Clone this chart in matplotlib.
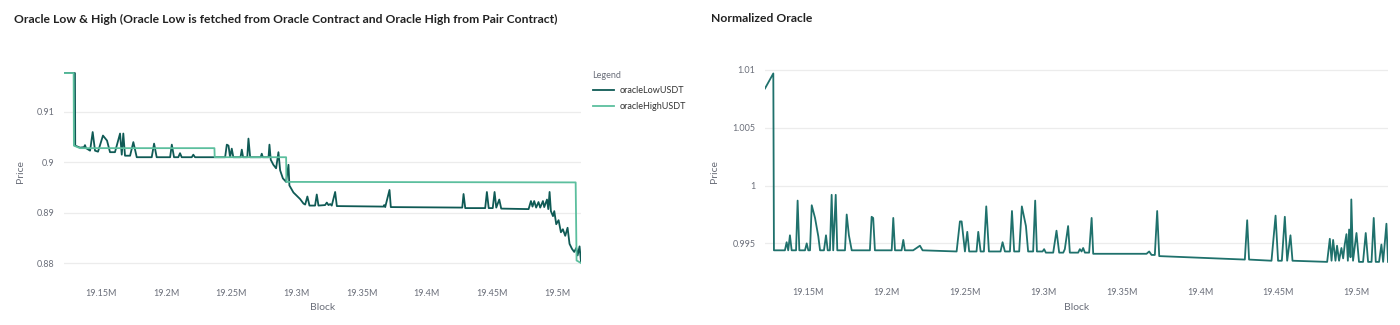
import matplotlib
matplotlib.use("Agg")
import matplotlib.pyplot as plt
from matplotlib.ticker import FuncFormatter, MultipleLocator, FixedLocator

plt.rcParams["font.family"] = ["Lato", "DejaVu Sans"]

# block numbers in millions, oracle prices in USDT
low_block = [
    19.1216, 19.1300, 19.1302, 19.1339, 19.1370, 19.1377, 19.1385, 19.1416, 19.1436, 19.1454,
    19.1477, 19.1515, 19.1546, 19.1569, 19.1607, 19.1646, 19.1659, 19.1671, 19.1684, 19.1723,
    19.1748, 19.1774, 19.1889, 19.1907, 19.1927, 19.2030, 19.2043, 19.2060, 19.2093, 19.2106,
    19.2119, 19.2196, 19.2208, 19.2221, 19.2452, 19.2465, 19.2478, 19.2490, 19.2503, 19.2515,
    19.2570, 19.2580, 19.2590, 19.2622, 19.2631, 19.2644, 19.2725, 19.2733, 19.2741, 19.2785,
    19.2792, 19.2802, 19.2822, 19.2843, 19.2861, 19.2874, 19.2895, 19.2920, 19.2938, 19.2945,
    19.2976, 19.3027, 19.3053, 19.3066, 19.3083, 19.3099, 19.3142, 19.3155, 19.3168, 19.3219,
    19.3232, 19.3245, 19.3258, 19.3270, 19.3296, 19.3309, 19.3667, 19.3672, 19.3680, 19.3713,
    19.3723, 19.4271, 19.4281, 19.4294, 19.4447, 19.4460, 19.4474, 19.4505, 19.4519, 19.4532,
    19.4555, 19.4570, 19.4780, 19.4798, 19.4810, 19.4823, 19.4838, 19.4856, 19.4869, 19.4890,
    19.4900, 19.4921, 19.4931, 19.4941, 19.4951, 19.4967, 19.4977, 19.4992, 19.5010, 19.5028,
    19.5043, 19.5061, 19.5079, 19.5094, 19.5113, 19.5130, 19.5146, 19.5156, 19.5171, 19.5182,
]
low_price = [
    0.9177, 0.9177, 0.9033, 0.9029, 0.9030, 0.9034, 0.9028, 0.9023, 0.9060, 0.9023,
    0.9021, 0.9053, 0.9043, 0.9020, 0.9020, 0.9057, 0.9015, 0.9057, 0.9013, 0.9013,
    0.9040, 0.9010, 0.9010, 0.9037, 0.9010, 0.9010, 0.9035, 0.9010, 0.9010, 0.9018,
    0.9010, 0.9010, 0.9015, 0.9010, 0.9010, 0.9035, 0.9033, 0.9010, 0.9027, 0.9010,
    0.9010, 0.9025, 0.9010, 0.9010, 0.9047, 0.9010, 0.9010, 0.9017, 0.9010, 0.9010,
    0.9035, 0.9005, 0.8995, 0.8988, 0.9020, 0.8984, 0.8968, 0.8961, 0.8995, 0.8954,
    0.8940, 0.8927, 0.8918, 0.8916, 0.8932, 0.8914, 0.8914, 0.8936, 0.8914, 0.8915,
    0.8920, 0.8915, 0.8917, 0.8914, 0.8941, 0.8913, 0.8912, 0.8915, 0.8911, 0.8945,
    0.8911, 0.8910, 0.8937, 0.8909, 0.8909, 0.8941, 0.8909, 0.8909, 0.8941, 0.8910,
    0.8926, 0.8908, 0.8907, 0.8923, 0.8912, 0.8923, 0.8910, 0.8921, 0.8910, 0.8923,
    0.8911, 0.8926, 0.8907, 0.8941, 0.8903, 0.8893, 0.8903, 0.8877, 0.8885, 0.8861,
    0.8867, 0.8854, 0.8870, 0.8838, 0.8828, 0.8822, 0.8830, 0.8815, 0.8833, 0.8802,
]

high_block = [19.1216, 19.1290, 19.1292, 19.1339, 19.2370, 19.2372, 19.2920, 19.2922,
              19.5141, 19.5148, 19.5182]
high_price = [0.9177, 0.9177, 0.9033, 0.9028, 0.9028, 0.9010, 0.9010, 0.8961,
              0.8960, 0.8805, 0.8800]

norm_block = [
    19.1226, 19.1279, 19.1283, 19.1353, 19.1364, 19.1374, 19.1385, 19.1396, 19.1424, 19.1434,
    19.1445, 19.1481, 19.1492, 19.1502, 19.1513, 19.1524, 19.1545, 19.1566, 19.1577, 19.1602,
    19.1615, 19.1626, 19.1640, 19.1651, 19.1661, 19.1677, 19.1687, 19.1736, 19.1747, 19.1761,
    19.1779, 19.1895, 19.1906, 19.1916, 19.1927, 19.2034, 19.2044, 19.2055, 19.2097, 19.2108,
    19.2118, 19.2171, 19.2214, 19.2231, 19.2448, 19.2469, 19.2480, 19.2501, 19.2516, 19.2528,
    19.2575, 19.2586, 19.2601, 19.2622, 19.2637, 19.2654, 19.2728, 19.2741, 19.2756, 19.2788,
    19.2801, 19.2815, 19.2847, 19.2864, 19.2890, 19.2904, 19.2936, 19.2949, 19.2960, 19.2996,
    19.3006, 19.3017, 19.3064, 19.3085, 19.3102, 19.3128, 19.3138, 19.3159, 19.3170, 19.3223,
    19.3234, 19.3245, 19.3255, 19.3266, 19.3293, 19.3309, 19.3319, 19.3659, 19.3676, 19.3691,
    19.3712, 19.3727, 19.3740, 19.4286, 19.4301, 19.4313, 19.4456, 19.4482, 19.4498, 19.4522,
    19.4541, 19.4556, 19.4577, 19.4590, 19.4811, 19.4828, 19.4839, 19.4849, 19.4864, 19.4874,
    19.4887, 19.4902, 19.4913, 19.4923, 19.4934, 19.4943, 19.4951, 19.4960, 19.4965, 19.4976,
    19.4998, 19.5014, 19.5040, 19.5057, 19.5072, 19.5094, 19.5108, 19.5121, 19.5142, 19.5157,
    19.5168, 19.5189, 19.5199,
]
norm_price = [
    1.0084, 1.0097, 0.9944, 0.9944, 0.9951, 0.9944, 0.9957, 0.9944, 0.9944, 0.9987,
    0.9944, 0.9944, 0.9950, 0.9944, 0.9944, 0.9983, 0.9972, 0.9956, 0.9944, 0.9944,
    0.9957, 0.9944, 0.9944, 0.9992, 0.9944, 0.9992, 0.9944, 0.9944, 0.9975, 0.9957,
    0.9944, 0.9944, 0.9973, 0.9972, 0.9944, 0.9944, 0.9972, 0.9944, 0.9944, 0.9953,
    0.9944, 0.9944, 0.9948, 0.9944, 0.9943, 0.9969, 0.9969, 0.9943, 0.9960, 0.9943,
    0.9943, 0.9960, 0.9943, 0.9943, 0.9982, 0.9943, 0.9943, 0.9951, 0.9943, 0.9943,
    0.9978, 0.9943, 0.9943, 0.9982, 0.9965, 0.9943, 0.9943, 0.9987, 0.9943, 0.9943,
    0.9945, 0.9942, 0.9942, 0.9961, 0.9942, 0.9942, 0.9945, 0.9965, 0.9942, 0.9942,
    0.9945, 0.9943, 0.9946, 0.9942, 0.9942, 0.9972, 0.9941, 0.9941, 0.9943, 0.9940,
    0.9940, 0.9978, 0.9939, 0.9936, 0.9970, 0.9936, 0.9935, 0.9974, 0.9935, 0.9935,
    0.9973, 0.9935, 0.9957, 0.9935, 0.9934, 0.9954, 0.9935, 0.9953, 0.9935, 0.9948,
    0.9935, 0.9946, 0.9937, 0.9949, 0.9958, 0.9935, 0.9962, 0.9938, 0.9988, 0.9935,
    0.9959, 0.9934, 0.9934, 0.9959, 0.9934, 0.9934, 0.9972, 0.9934, 0.9934, 0.9949,
    0.9934, 0.9967, 0.9934,
]

low_high_yticks = [0.88, 0.89, 0.90, 0.91]
norm_yticks = [0.995, 1.0, 1.005, 1.01]

W, H = 1400, 325
LOW_C = "#0f5a55"
HIGH_C = "#5cbf9e"
NORM_C = "#1f716c"
TXT = "#6b6f7a"

fig = plt.figure(figsize=(W / 100, H / 100), dpi=100)


def px_axes(x0, y_top, x1, y_bot):
    return fig.add_axes([x0 / W, 1 - y_bot / H, (x1 - x0) / W, (y_bot - y_top) / H])


def style(ax):
    for s in ax.spines.values():
        s.set_visible(False)
    ax.grid(axis="y", color="#ececec", lw=0.9)
    ax.set_axisbelow(True)
    ax.tick_params(length=0, labelsize=6.5, labelcolor=TXT)
    ax.tick_params(axis="x", pad=10)
    ax.tick_params(axis="y", pad=7)
    ax.xaxis.set_major_locator(MultipleLocator(0.05))
    ax.xaxis.set_major_formatter(FuncFormatter(lambda v, _: f"{round(v, 2):g}M"))
    ax.yaxis.set_major_formatter(FuncFormatter(lambda v, _: f"{round(v, 3):g}"))


ax1 = px_axes(64, 61.5, 581, 275.6)
style(ax1)
ax1.plot(low_block, low_price, color=LOW_C, lw=1.3, label="oracleLowUSDT")
ax1.plot(high_block, high_price, color=HIGH_C, lw=1.3, label="oracleHighUSDT")
ax1.set_xlim(low_block[0], low_block[-1])
ax1.set_ylim(0.8775, 0.92)
ax1.yaxis.set_major_locator(FixedLocator(low_high_yticks))
ax1.legend(title="Legend", loc="upper left", bbox_to_anchor=(588 / W, 1 - 66 / H),
           bbox_transform=fig.transFigure, frameon=False, fontsize=6.5,
           title_fontproperties={"size": 6.5}, alignment="left",
           handlelength=2.4, handletextpad=0.6, labelspacing=0.75, borderpad=0)
leg = ax1.get_legend()
leg.get_title().set_color(TXT)
for t in leg.get_texts():
    t.set_color("#333333")

ax2 = px_axes(765, 56.1, 1388, 274.6)
style(ax2)
ax2.plot(norm_block, norm_price, color=NORM_C, lw=1.3)
ax2.set_xlim(norm_block[0], norm_block[-1])
ax2.set_ylim(0.9923, 1.0112)
ax2.yaxis.set_major_locator(FixedLocator(norm_yticks))

fig.text(14 / W, 1 - 19 / H,
         "Oracle Low & High (Oracle Low is fetched from Oracle Contract and Oracle High from Pair Contract)",
         fontsize=8.75, fontweight="bold", color="#222222", va="center", ha="left")
fig.text(711 / W, 1 - 19 / H, "Normalized Oracle", fontsize=8.75, fontweight="bold",
         color="#222222", va="center", ha="left")

for x in (20, 715):
    fig.text(x / W, 1 - 172 / H, "Price", rotation=90, fontsize=7.5, color=TXT,
             ha="center", va="center")
for x in (323, 1077):
    fig.text(x / W, 1 - 308 / H, "Block", fontsize=7.5, color=TXT, ha="center", va="center")

fig.savefig("out.png", dpi=100, facecolor="white")
